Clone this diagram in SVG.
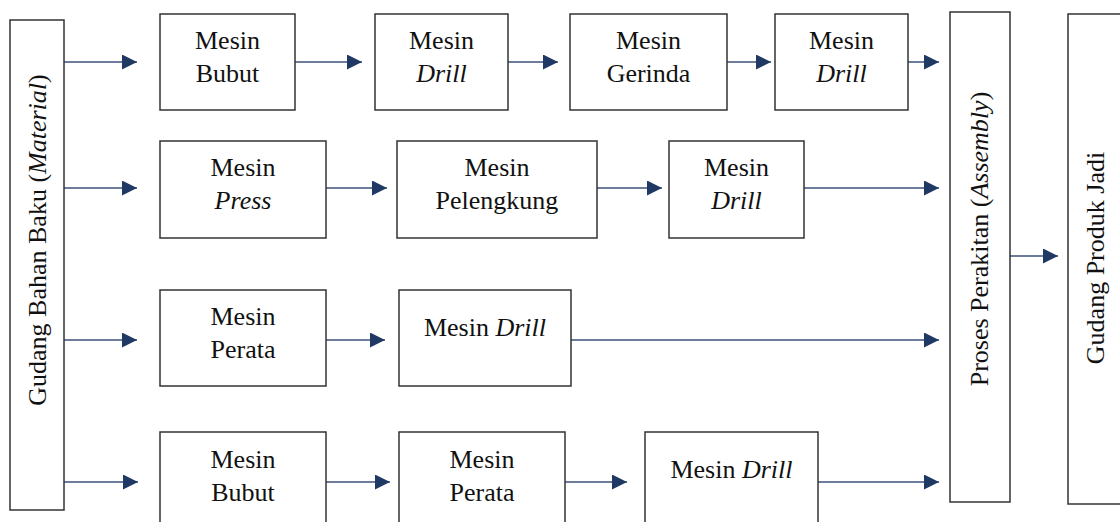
<svg xmlns="http://www.w3.org/2000/svg" width="1120" height="522" viewBox="0 0 1120 522">
<style>
.box{fill:#fff;stroke:#333;stroke-width:1.5}
text{font-family:Liberation Serif, Times New Roman, Times, serif;font-size:26px;fill:#111;text-anchor:middle}
.i{font-style:italic}
.c{fill:none;stroke:#3c5079;stroke-width:1.5}
</style>
<defs>
<marker id="ah" markerUnits="userSpaceOnUse" markerWidth="15" markerHeight="15" refX="15" refY="7.5" orient="auto">
<path d="M0,0 L15,7.5 L0,15 Z" fill="#1f3864"/>
</marker>
</defs>
<rect width="1120" height="522" fill="#fff"/>
<g id="connectors">
<path class="c" marker-end="url(#ah)" d="M64,62 H137"/>
<path class="c" marker-end="url(#ah)" d="M295,62 H362"/>
<path class="c" marker-end="url(#ah)" d="M508,62 H558"/>
<path class="c" marker-end="url(#ah)" d="M727,62 H771"/>
<path class="c" marker-end="url(#ah)" d="M908,62 H939"/>
<path class="c" marker-end="url(#ah)" d="M64,188 H137"/>
<path class="c" marker-end="url(#ah)" d="M326,188 H387"/>
<path class="c" marker-end="url(#ah)" d="M597,188 H662"/>
<path class="c" marker-end="url(#ah)" d="M804,188 H939"/>
<path class="c" marker-end="url(#ah)" d="M64,340 H137"/>
<path class="c" marker-end="url(#ah)" d="M326,340 H385"/>
<path class="c" marker-end="url(#ah)" d="M571,340 H939"/>
<path class="c" marker-end="url(#ah)" d="M64,482 H138"/>
<path class="c" marker-end="url(#ah)" d="M326,482 H390"/>
<path class="c" marker-end="url(#ah)" d="M565,482 H627"/>
<path class="c" marker-end="url(#ah)" d="M818,482 H939"/>
<path class="c" marker-end="url(#ah)" d="M1010,256 H1058"/>
</g>
<g id="gudang-bahan-baku">
<rect class="box" x="10" y="20" width="54" height="490"/>
<text transform="translate(46,240) rotate(-90)">Gudang Bahan Baku (<tspan class="i">Material</tspan>)</text>
</g>
<g id="r1-bubut"><rect class="box" x="160" y="14" width="135" height="96"/><text x="227.5" y="49">Mesin</text><text x="227.5" y="82">Bubut</text></g>
<g id="r1-drill"><rect class="box" x="375" y="14" width="133" height="96"/><text x="441.5" y="49">Mesin</text><text class="i" x="441.5" y="82">Drill</text></g>
<g id="r1-gerinda"><rect class="box" x="570" y="14" width="157" height="96"/><text x="648.5" y="49">Mesin</text><text x="648.5" y="82">Gerinda</text></g>
<g id="r1-drill2"><rect class="box" x="775" y="14" width="133" height="96"/><text x="841.5" y="49">Mesin</text><text class="i" x="841.5" y="82">Drill</text></g>
<g id="r2-press"><rect class="box" x="160" y="141" width="166" height="97"/><text x="243" y="176">Mesin</text><text class="i" x="243" y="209">Press</text></g>
<g id="r2-pelengkung"><rect class="box" x="397" y="141" width="200" height="97"/><text x="497" y="176">Mesin</text><text x="497" y="209">Pelengkung</text></g>
<g id="r2-drill"><rect class="box" x="669" y="141" width="135" height="97"/><text x="736.5" y="176">Mesin</text><text class="i" x="736.5" y="209">Drill</text></g>
<g id="r3-perata"><rect class="box" x="160" y="290" width="166" height="96"/><text x="243" y="325">Mesin</text><text x="243" y="358">Perata</text></g>
<g id="r3-drill"><rect class="box" x="399" y="290" width="172" height="96"/><text x="485" y="336">Mesin <tspan class="i">Drill</tspan></text></g>
<g id="r4-bubut"><rect class="box" x="160" y="432" width="166" height="100"/><text x="243" y="468">Mesin</text><text x="243" y="501">Bubut</text></g>
<g id="r4-perata"><rect class="box" x="399" y="432" width="166" height="100"/><text x="482" y="468">Mesin</text><text x="482" y="501">Perata</text></g>
<g id="r4-drill"><rect class="box" x="645" y="432" width="173" height="100"/><text x="731.5" y="478">Mesin <tspan class="i">Drill</tspan></text></g>
<g id="proses-perakitan">
<rect class="box" x="950" y="12" width="60" height="490"/>
<text transform="translate(988,239) rotate(-90)">Proses Perakitan (<tspan class="i">Assembly</tspan>)</text>
</g>
<g id="gudang-produk-jadi">
<rect class="box" x="1068" y="14" width="70" height="490"/>
<text transform="translate(1104,258) rotate(-90)">Gudang Produk Jadi</text>
</g>
</svg>
